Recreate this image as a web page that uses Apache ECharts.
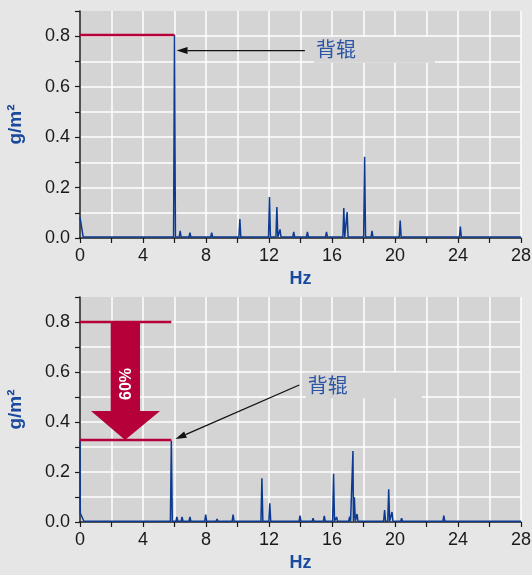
<!DOCTYPE html>
<html><head><meta charset="utf-8">
<script src="https://cdn.jsdelivr.net/npm/echarts@6/dist/echarts.min.js"></script>
<style>html,body{margin:0;padding:0;background:#e6e6e6;}#c{width:532px;height:575px;}</style>
</head><body><div id="c"></div>
<script>
// ---- data ----
const xTickLabels = [0, 4, 8, 12, 16, 20, 24, 28];
const yTickLabels = [0.0, 0.2, 0.4, 0.6, 0.8];

const topStartHz = [0, 0.2];
const topStartVal = [0.083, 0.004];
const topBase = 0.004;
const topPeakHz  = [6.0, 6.36, 6.98, 8.36, 10.15, 12.03, 12.5, 12.7, 13.57, 14.44, 15.65, 16.75, 16.96, 18.07, 18.54, 20.33, 24.15];
const topPeakVal = [0.805, 0.028, 0.021, 0.021, 0.075, 0.162, 0.123, 0.034, 0.024, 0.024, 0.024, 0.119, 0.103, 0.322, 0.028, 0.069, 0.045];

const botStartHz = [0, 0.02, 0.25];
const botStartVal = [0.325, 0.035, 0.003];
const botBase = 0.003;
const botPeakHz  = [5.8, 6.15, 6.48, 6.98, 7.98, 8.7, 9.72, 11.55, 12.05, 13.97, 14.8, 15.51, 16.1, 16.29, 17.12, 17.33, 17.42, 17.59, 19.34, 19.6, 19.81, 20.42, 23.1];
const botPeakVal = [0.325, 0.02, 0.02, 0.02, 0.03, 0.012, 0.03, 0.175, 0.075, 0.025, 0.015, 0.024, 0.193, 0.02, 0.021, 0.284, 0.099, 0.032, 0.048, 0.131, 0.04, 0.015, 0.025];

const rollLabel = '背辊';
const topRollLevel = 0.805;   // back-roll peak level (top)
const botBeforeLevel = 0.8;   // before reduction (bottom)
const botAfterLevel = 0.328;  // after reduction (bottom)
const reductionText = '60%';
const xMax = 28, yMax = 0.9;

// ---- build spike lines ----
function buildLine(sx, sy, hz, val, base, w) {
  const pts = sx.map((x, i) => [x, sy[i]]);
  for (let i = 0; i < hz.length; i++) {
    const f = hz[i];
    const last = pts[pts.length - 1][0];
    if (f - w > last + 1e-6) pts.push([f - w, base]);
    pts.push([f, val[i]]);
    const next = hz[i + 1];
    if (next === undefined || next - w > f + w) pts.push([f + w, base]);
  }
  pts.push([xMax, base]);
  return pts;
}
const topLine = buildLine(topStartHz, topStartVal, topPeakHz, topPeakVal, topBase, 0.06);
const botLine = buildLine(botStartHz, botStartVal, botPeakHz, botPeakVal, botBase, 0.06);

const RED = '#b5003a', BLUE = '#0c3a90', NAMEBLUE = '#1a4a9e';
const FONT = '"Liberation Sans", Arial, sans-serif';

function xAxis(gi) {
  return {
    type: 'value', gridIndex: gi, min: 0, max: xMax, interval: 2,
    name: 'Hz', nameLocation: 'middle', nameGap: 32,
    nameTextStyle: { color: NAMEBLUE, fontWeight: 'bold', fontSize: 18, fontFamily: FONT },
    axisLine: { show: true, onZero: false, lineStyle: { color: '#1a1a1a', width: 1.5 } },
    axisTick: { show: true, length: 5, lineStyle: { color: '#1a1a1a', width: 1.2 } },
    axisLabel: { color: '#1a1a1a', fontSize: 18, fontFamily: FONT, margin: 9,
      formatter: v => xTickLabels.indexOf(Math.round(v)) >= 0 ? String(Math.round(v)) : '' },
    splitLine: { show: true, lineStyle: { color: '#ffffff', width: 1.5 } }
  };
}
function yAxis(gi) {
  return {
    type: 'value', gridIndex: gi, min: 0, max: yMax, interval: 0.1,
    name: 'g/m²', nameLocation: 'middle', nameRotate: 90, nameGap: 55,
    nameTextStyle: { color: NAMEBLUE, fontWeight: 'bold', fontSize: 19, fontFamily: FONT },
    axisLine: { show: true, lineStyle: { color: '#1a1a1a', width: 1.5 } },
    axisTick: { show: true, length: 5, lineStyle: { color: '#1a1a1a', width: 1.2 } },
    axisLabel: { color: '#1a1a1a', fontSize: 18, fontFamily: FONT, margin: 10,
      formatter: v => { const t = Math.round(v * 10) / 10; return yTickLabels.some(y => Math.abs(y - t) < 1e-6) ? t.toFixed(1) : ''; } },
    splitLine: { show: true, showMaxLine: false, lineStyle: { color: '#ffffff', width: 1.5 } }
  };
}

function arrow(api, from, to, color) {
  const p0 = api.coord(from), p1 = api.coord(to);
  const dx = p1[0] - p0[0], dy = p1[1] - p0[1];
  const L = Math.hypot(dx, dy), ux = dx / L, uy = dy / L;
  const hl = 11, hw = 3.5;
  const bx = p1[0] - ux * hl, by = p1[1] - uy * hl;
  return [
    { type: 'line', shape: { x1: p0[0], y1: p0[1], x2: bx, y2: by }, style: { stroke: color, lineWidth: 1.3 } },
    { type: 'polygon', shape: { points: [p1, [bx - uy * hw, by + ux * hw], [bx + uy * hw, by - ux * hw]] }, style: { fill: color } }
  ];
}
function labelBox(api, x0, y0, x1, y1, text) {
  const p0 = api.coord([x0, y0]), p1 = api.coord([x1, y1]);
  return [
    { type: 'rect', shape: { x: p0[0], y: p0[1], width: p1[0] - p0[0], height: p1[1] - p0[1] }, style: { fill: '#d4d4d4' } },
    { type: 'text', x: p0[0] + 2, y: (p0[1] + p1[1]) / 2,
      style: { text: text, fill: '#2d55a5', fontSize: 20, fontFamily: '"Noto Sans CJK SC", sans-serif', align: 'left', verticalAlign: 'middle' } }
  ];
}
function hline(api, x0, x1, y) {
  const a = api.coord([x0, y]), b = api.coord([x1, y]);
  return { type: 'line', shape: { x1: a[0], y1: a[1], x2: b[0], y2: b[1] }, style: { stroke: RED, lineWidth: 2.5 } };
}

const topPeak = topPeakHz[0], botPeak = botPeakHz[0];

const option = {
  backgroundColor: '#e6e6e6',
  animation: false,
  grid: [
    { left: 80, right: 11, top: 11, bottom: 337, show: true, backgroundColor: '#d4d4d4', borderWidth: 0, outerBoundsMode: 'none', containLabel: false },
    { left: 80, right: 11, top: 297, bottom: 53, show: true, backgroundColor: '#d4d4d4', borderWidth: 0, outerBoundsMode: 'none', containLabel: false }
  ],
  xAxis: [xAxis(0), xAxis(1)],
  yAxis: [yAxis(0), yAxis(1)],
  series: [
    { type: 'line', xAxisIndex: 0, yAxisIndex: 0, data: topLine, symbol: 'none', z: 3,
      lineStyle: { color: BLUE, width: 1.5 } },
    { type: 'line', xAxisIndex: 1, yAxisIndex: 1, data: botLine, symbol: 'none', z: 3,
      lineStyle: { color: BLUE, width: 1.5 } },
    { type: 'custom', xAxisIndex: 0, yAxisIndex: 0, data: [[0, 0]], z: 4, clip: false,
      renderItem: (params, api) => ({ type: 'group', children: [
        hline(api, 0, topPeak, topRollLevel),
        ...arrow(api, [14.28, 0.743], [topPeak + 0.13, 0.743], '#111'),
        ...labelBox(api, 14.86, 0.797, 22.54, 0.695, rollLabel)
      ] }) },
    { type: 'custom', xAxisIndex: 1, yAxisIndex: 1, data: [[0, 0]], z: 4, clip: false,
      renderItem: (params, api) => {
        const c = p => api.coord(p);
        const shaftL = 1.95, shaftR = 3.81, headL = 0.7, headR = 5.08, tipX = 2.86, headY = 0.444;
        const big = { type: 'polygon', shape: { points: [
          c([shaftL, botBeforeLevel]), c([shaftR, botBeforeLevel]), c([shaftR, headY]), c([headR, headY]),
          c([tipX, botAfterLevel]), c([headL, headY]), c([shaftL, headY]) ] }, style: { fill: RED } };
        const tp = c([2.95, 0.552]);
        const txt = { type: 'text', x: tp[0], y: tp[1], rotation: Math.PI / 2,
          style: { text: reductionText, fill: '#ffffff', fontSize: 16, fontWeight: 'bold', fontFamily: FONT, align: 'center', verticalAlign: 'middle' } };
        return { type: 'group', children: [
          big, txt,
          hline(api, 0, botPeak, botBeforeLevel),
          hline(api, 0, botPeak, botAfterLevel),
          ...arrow(api, [13.92, 0.548], [botPeak + 0.26, 0.332], '#111'),
          ...labelBox(api, 14.33, 0.597, 21.71, 0.495, rollLabel)
        ] };
      } }
  ]
};
const chart = echarts.init(document.getElementById('c'));
chart.setOption(option);
</script></body></html>
